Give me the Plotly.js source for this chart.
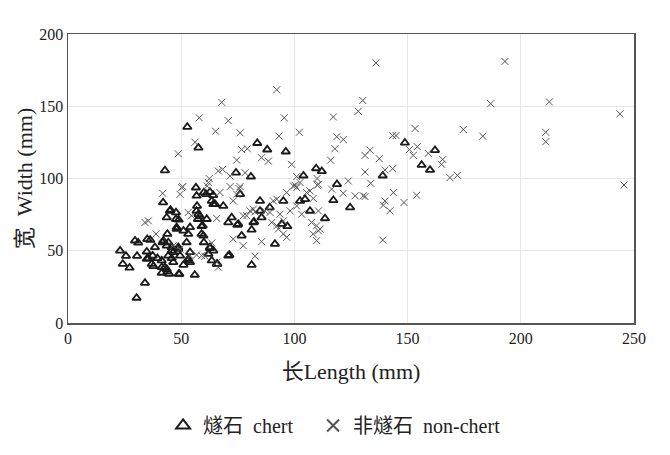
<!DOCTYPE html>
<html>
<head>
<meta charset="utf-8">
<script src="https://cdn.plot.ly/plotly-3.0.1.min.js"></script>
<style>html,body{margin:0;padding:0;background:#fff;}#chart{width:670px;height:455px;}</style>
</head>
<body>
<div id="chart"></div>
<script>
// 燧石 chert — length (mm)
const chertLength = [23,25.6,24.2,27.2,30.3,34,29.6,31,30.5,34.8,35.5,37,37.4,39.5,41.4,35,36.3,38.4,41.8,42.1,44.3,43.6,42.8,43.6,43.9,41.4,44.7,41.4,37.7,44.3,46.5,48.7,49.5,51,53.1,48.9,56,45.8,45.8,46.5,53.9,52.4,53.9,42.8,42,45.3,47.7,43.6,47.7,48.9,48,43.9,53.9,53.1,51,56.5,56.8,57,57.4,52.7,57.6,74.2,80.8,83.6,88,96.2,104,109.6,112.1,118.8,60,61,63.5,64.2,68.6,76,84.8,89.1,95.1,56.8,57.6,58.3,61.3,59,59.8,60,62.7,64.2,62,63.5,65.7,72.3,70.8,74.8,76.7,71.3,81.1,81.9,84.8,85.5,91.4,81.1,94.4,96.9,102.5,106.9,113.5,117.2,124.6,139,148.8,162.1,156.2,159.9,62.7,64.1,65,45,75.2,48,59.5,59,66,70.8,34.8,48.7,45.8,53.1,49.2,62.7,104.7,82.2];
// 燧石 chert — width (mm)
const chertWidth = [50,46.4,40.9,38.2,17.4,27.7,57,55.6,46.4,49.4,44.8,40.9,46.6,44.8,43.2,58,57.5,52.4,55.8,57,55.8,53.5,38.6,37.3,35.6,34.7,34,38.6,39.3,46.6,49,52.4,46.6,40.2,43.2,34,33.3,52.4,44.8,42.1,42.1,55.8,49,105.6,83.4,78.3,76.5,73,71.9,71.4,66.2,61.6,66.2,61.6,63.8,93.7,88,81,71.9,135.7,121.3,104,101.3,124.5,120,118.6,102,107,105,96,90.3,89.1,84.5,82.2,81,89.1,84.5,80,84.5,77.6,75.3,73.8,71.9,66.9,60.4,55.8,51.7,50,47.8,43.2,40.9,73,69.6,67.8,60.4,47.1,64.5,69.6,77.6,73,54.7,40.2,68.5,66.9,84.5,77.6,72.4,85,80,102,124.7,119.6,109.3,105.9,90.7,88.4,82.2,77.6,68.5,65,67.3,61.6,40.9,46.6,44.3,51.2,50,44.3,34,52.4,85.7,70];
// 非燧石 non-chert — length (mm)
const nonChertLength = [136,193,186.7,212.6,243.8,183.2,211,211,245.6,153.3,174.6,143.4,144.9,133.4,131.2,137.5,150.8,154.3,152.5,159.1,165.5,165,131.2,140,143.4,168.7,172,133.7,131.2,143.7,140,139.3,142.2,148.4,154,139,130.2,128.2,117.2,118.7,121.6,117.9,116,98.8,85.5,88.5,76.7,79.2,78.2,101,123.8,92.2,95.5,76,93.2,102.2,67.9,58,70.8,65.2,56.1,48.7,74.5,68.3,66.4,62.4,71.6,50.7,61.5,71.6,76,50.2,49.5,41.8,62,67.1,74.5,73,34,35.5,38.9,53.1,54.6,65.7,77.4,73,77.4,56.8,59,60.5,65.7,66.4,46.5,49.5,90.7,92.2,96.6,100.3,102.5,105.4,106.9,110.1,116.5,121.6,126.8,130.4,80.4,81.9,78.9,87,89.2,93.6,98.1,101,110.6,90,92.2,95.1,96.6,107.6,109.8,108.3,110.6,109.8,85.5,82.6,75.6,101,108.3,103.2,111.3,82.6,92.9,95.1,63.5,53.9,110.6,110,99.5];
// 非燧石 non-chert — width (mm)
const nonChertWidth = [180,181,151.8,153,144.7,129.3,132,125.4,95.5,134.6,133.9,129.7,129.7,119.6,116,113.7,120,122,116,117.4,113.2,109.8,104.5,105.8,106.8,100.6,102.2,96.7,87.5,90.3,84.5,81.5,77.6,83.4,88.4,57.4,154,146.5,142.6,128.9,127,120.6,112.7,109.8,114.4,112,120,120.6,104,101.3,98.3,161.4,142,131.6,129.3,132,152.7,142,140,132.7,125.1,117.1,112.7,106.3,105.2,99.9,101.7,94.4,94.8,94.4,94.4,93.7,89.1,89.8,97.2,90.3,89.1,84.5,69.6,70.7,61.6,76.5,74.2,72.4,74.2,58.1,53.5,47.1,46.6,46.2,42.1,38.6,53.5,51.2,84.5,85.7,90.3,95.3,97.2,90.3,91.4,95.3,92.6,89.8,88,88,77.6,78.8,74.2,77.6,76.5,75.3,77.6,81,77.6,69.6,67.3,70.7,59.3,69.6,67.3,61.6,63.8,57,56.3,46.2,93,93.7,86.2,75.3,65,76.9,65,61.6,55.4,46.6,96,100,94.8];

const seriesNames = ['燧石\u00a0\u00a0chert\u00a0\u00a0\u00a0', '非燧石\u00a0\u00a0non-chert'];
const xTickVals = [0, 50, 100, 150, 200, 250];
const yTickVals = [0, 50, 100, 150, 200];

const FONT = 'Liberation Serif, "Times New Roman", "Noto Sans CJK SC", serif';

const traces = [
  {
    x: chertLength, y: chertWidth, name: seriesNames[0],
    type: 'scatter', mode: 'markers',
    marker: {symbol: 'triangle-up-open', size: 7.5, color: '#1a1a1a', line: {width: 1.8, color: '#1a1a1a'}}
  },
  {
    x: nonChertLength, y: nonChertWidth, name: seriesNames[1],
    type: 'scatter', mode: 'markers',
    marker: {symbol: 'x-thin-open', size: 7, color: '#555', line: {width: 1, color: '#555'}}
  }
];

const axisCommon = {
  showgrid: true, gridcolor: '#e8e8e8', gridwidth: 1,
  showline: true, linecolor: '#555', linewidth: 1.5, mirror: true,
  zeroline: false, ticks: '', automargin: false,
  tickfont: {family: FONT, size: 16, color: '#222'}
};

const layout = {
  width: 670, height: 455,
  margin: {l: 68, r: 36, t: 34, b: 131},
  paper_bgcolor: '#fff', plot_bgcolor: '#fff',
  font: {family: FONT, color: '#222'},
  showlegend: true,
  legend: {
    orientation: 'h', x: 0.168, xanchor: 'left', y: -0.35, yanchor: 'middle',
    font: {family: FONT, size: 20, color: '#222'},
    itemsizing: 'constant', itemwidth: 30,
    bgcolor: 'rgba(0,0,0,0)', traceorder: 'normal'
  },
  xaxis: Object.assign({}, axisCommon, {
    range: [0, 250], tickvals: xTickVals,
    title: {text: '长Length (mm)', font: {family: FONT, size: 22, color: '#222'}, standoff: 18}
  }),
  yaxis: Object.assign({}, axisCommon, {
    range: [0, 200], tickvals: yTickVals,
    title: {text: '宽\u00a0 Width (mm)', font: {family: FONT, size: 22, color: '#222'}, standoff: 0}
  })
};

Plotly.newPlot('chart', traces, layout, {displayModeBar: false, staticPlot: true});
</script>
</body>
</html>
